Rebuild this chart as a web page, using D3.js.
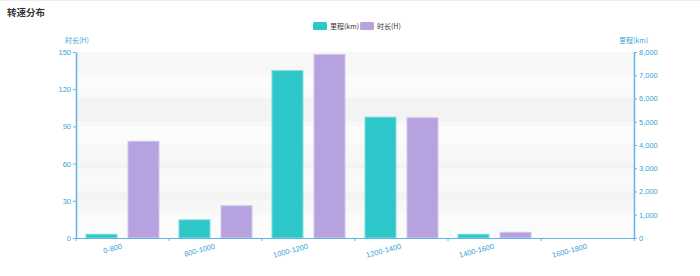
<!DOCTYPE html>
<html>
<head>
<meta charset="utf-8">
<script src="https://cdn.jsdelivr.net/npm/d3@7/dist/d3.min.js"></script>
<style>
  body { margin: 0; background: #fff; }
  svg { display: block; font-family: "Noto Sans CJK SC", "Open Sans", sans-serif; }
</style>
</head>
<body>
<script>
var categories = ["0-800", "800-1000", "1000-1200", "1200-1400", "1400-1600", "1600-1800"];
var mileage = [160, 780, 7200, 5200, 160, 0];   // 里程(km), right axis
var hours = [78, 26, 148, 97, 4.6, 0];          // 时长(H), left axis
var hourTicks = [0, 30, 60, 90, 120, 150];
var kmTicks = [0, 1000, 2000, 3000, 4000, 5000, 6000, 7000, 8000];

window.onload = function() {
  var margin = {top: 52, right: 66, bottom: 38, left: 76};
  var width = 700 - margin.left - margin.right;
  var height = 276 - margin.top - margin.bottom;

  var axisColor = "#5fb6e6";
  var textColor = "#3a9fd9";

  var svg = d3.select("body").append("svg")
    .attr("width", 700)
    .attr("height", 276);

  svg.append("line")
    .attr("x1", 0).attr("x2", 700).attr("y1", 0.5).attr("y2", 0.5)
    .attr("stroke", "#eee");

  svg.append("text")
    .attr("x", 7).attr("y", 16)
    .attr("font-size", "9.5px")
    .attr("font-weight", 600)
    .attr("fill", "#333")
    .text("转速分布");

  // legend
  var legend = [{name: "里程(km)", color: "#2ec7c9", x: 313}, {name: "时长(H)", color: "#b6a2de", x: 360}];
  var lg = svg.append("g").selectAll("g").data(legend).enter().append("g")
    .attr("transform", function(d) { return "translate(" + d.x + ",22)"; });
  lg.append("rect")
    .attr("width", 14).attr("height", 8).attr("rx", 1.5)
    .attr("fill", function(d) { return d.color; });
  lg.append("text")
    .attr("x", 17).attr("y", 7)
    .attr("font-size", "7px")
    .attr("fill", "#333")
    .text(function(d) { return d.name; });

  var g = svg.append("g")
    .attr("transform", "translate(" + margin.left + "," + margin.top + ")");

  var x = d3.scaleBand().domain(categories).range([0, width]);
  var inner = d3.scaleBand().domain(["km", "h"]).range([0, x.bandwidth()])
    .paddingInner(0.238).paddingOuter(0.226);

  var yH = d3.scaleLinear().domain([0, 150]).range([height, 0]);
  var yKm = d3.scaleLinear().domain([0, 8000]).range([height, 0]);

  // split areas for both axes
  g.append("g").selectAll("rect")
    .data(hourTicks.slice(0, -1))
    .enter().append("rect")
    .attr("x", 0).attr("width", width)
    .attr("y", function(d) { return yH(d + 30); })
    .attr("height", function(d) { return yH(d) - yH(d + 30); })
    .attr("fill", function(d, i) { return i % 2 ? "rgba(200,200,200,0.1)" : "rgba(250,250,250,0.3)"; });

  g.append("g").selectAll("rect")
    .data(kmTicks.slice(0, -1))
    .enter().append("rect")
    .attr("x", 0).attr("width", width)
    .attr("y", function(d) { return yKm(d + 1000); })
    .attr("height", function(d) { return yKm(d) - yKm(d + 1000); })
    .attr("fill", function(d, i) { return i % 2 ? "rgba(200,200,200,0.1)" : "rgba(250,250,250,0.3)"; });

  // bars
  var groups = g.append("g").selectAll("g")
    .data(categories)
    .enter().append("g")
    .attr("transform", function(d) { return "translate(" + x(d) + ",0)"; });

  groups.append("rect")
    .attr("x", inner("km") + 0.5)
    .attr("width", inner.bandwidth() - 1)
    .attr("y", function(d, i) { return yKm(mileage[i]); })
    .attr("height", function(d, i) { return height - yKm(mileage[i]); })
    .attr("fill", "#2ec7c9")
    .attr("stroke", "#7fdcdd")
    .attr("stroke-width", 1);

  groups.append("rect")
    .attr("x", inner("h") + 0.5)
    .attr("width", inner.bandwidth() - 1)
    .attr("y", function(d, i) { return yH(hours[i]); })
    .attr("height", function(d, i) { return height - yH(hours[i]); })
    .attr("fill", "#b6a2de")
    .attr("stroke", "#d2c6ec")
    .attr("stroke-width", 1);

  // axes
  var xAxis = d3.axisBottom(x).tickSize(0).tickFormat("");
  var gx = g.append("g").attr("transform", "translate(0," + height + ")").call(xAxis);
  gx.select(".domain").attr("stroke", axisColor);
  gx.selectAll(".bd").data(d3.range(categories.length + 1)).enter().append("line")
    .attr("x1", function(d) { return d * x.step(); })
    .attr("x2", function(d) { return d * x.step(); })
    .attr("y1", 0).attr("y2", 3)
    .attr("stroke", axisColor);
  gx.selectAll(".lbl").data(categories).enter().append("text")
    .attr("transform", function(d) { return "translate(" + (x(d) + x.bandwidth() / 2) + ",10.5) rotate(-15)"; })
    .attr("text-anchor", "end")
    .attr("font-size", "7.5px")
    .attr("fill", textColor)
    .text(function(d) { return d; });

  var yAxisL = d3.axisLeft(yH).tickValues(hourTicks).tickSize(3).tickPadding(2).tickSizeOuter(0);
  var gl = g.append("g").call(yAxisL);
  gl.select(".domain").attr("stroke", axisColor).attr("stroke-width", 1.5);
  gl.selectAll(".tick line").attr("stroke", axisColor);
  gl.selectAll(".tick text").attr("fill", textColor).attr("font-size", "7.5px").attr("font-family", null);

  var yAxisR = d3.axisRight(yKm).tickValues(kmTicks).tickSize(3).tickPadding(2).tickSizeOuter(0)
    .tickFormat(d3.format(","));
  var gr = g.append("g").attr("transform", "translate(" + width + ",0)").call(yAxisR);
  gr.select(".domain").attr("stroke", axisColor).attr("stroke-width", 1.5);
  gr.selectAll(".tick line").attr("stroke", axisColor);
  gr.selectAll(".tick text").attr("fill", textColor).attr("font-size", "7.5px").attr("font-family", null);

  // axis names
  g.append("text")
    .attr("x", -11).attr("y", -9)
    .attr("font-size", "7px")
    .attr("fill", textColor)
    .text("时长(H)");
  g.append("text")
    .attr("x", width + 14).attr("y", -9)
    .attr("text-anchor", "end")
    .attr("font-size", "7px")
    .attr("fill", textColor)
    .text("里程(km)");
};
</script>
</body>
</html>
